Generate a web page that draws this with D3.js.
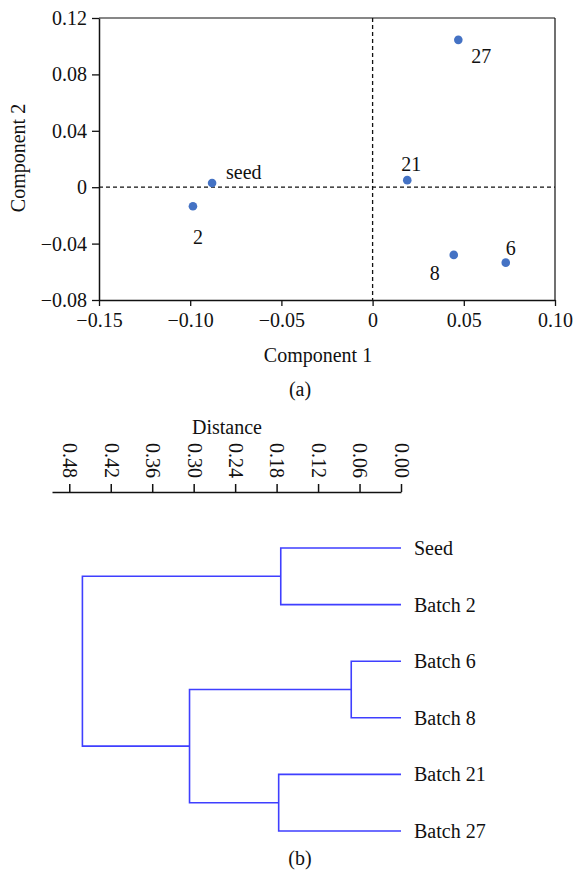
<!DOCTYPE html>
<html>
<head>
<meta charset="utf-8">
<script src="https://cdn.jsdelivr.net/npm/d3@7"></script>
<style>
  body { margin: 0; background: #fff; }
  text { font-family: "Liberation Serif", "Times New Roman", serif; fill: #111; }
  .axis text { font-family: "Liberation Serif", "Times New Roman", serif; fill: #111; }
  .axis path, .axis line { stroke: #111; }
</style>
</head>
<body>
<svg width="577" height="878"></svg>
<script>
// ---- (a) PCA scores ----
var pointNames = ["seed", "2", "21", "27", "8", "6"];
var comp1 = [-0.088, -0.0985, 0.019, 0.047, 0.0445, 0.073];
var comp2 = [0.003, -0.0135, 0.005, 0.1045, -0.048, -0.0535];
// label offset (px) for each point, relative to the dot
var labelDx = [14, 0, -6, 13, -24, 0];
var labelDy = [-11, 31, -16, 16, 18, -15];
var xTicks = [-0.15, -0.10, -0.05, 0, 0.05, 0.10];
var yTicks = [-0.08, -0.04, 0, 0.04, 0.08, 0.12];

// ---- (b) dendrogram ----
var leaves = ["Seed", "Batch 2", "Batch 6", "Batch 8", "Batch 21", "Batch 27"];
// linkage rows: [child a, child b, distance]; ids >= leaves.length are earlier rows
var linkage = [
    [0, 1, 0.174],
    [2, 3, 0.072],
    [4, 5, 0.177],
    [7, 8, 0.306],
    [6, 9, 0.461]
];
var distTicks = [0.48, 0.42, 0.36, 0.30, 0.24, 0.18, 0.12, 0.06, 0.00];

var svg = d3.select("svg");
var blue = "#4472c4";
var lineBlue = "#3f3fff";
var fs = "20px";

var minus = function(v) {
    if (v === 0) return "0";
    var s = d3.format(".2f")(Math.abs(v));
    return v < 0 ? "\u2212" + s : s;
};

var x = d3.scaleLinear().domain([-0.15, 0.10]).range([99, 555]);
var y = d3.scaleLinear().domain([-0.08, 0.12]).range([300, 18]);

var gx = svg.append("g")
    .attr("class", "axis")
    .attr("transform", "translate(0," + y(-0.08) + ")")
    .call(d3.axisBottom(x).tickValues(xTicks).tickFormat(minus).tickSize(6).tickSizeOuter(0).tickPadding(7));
gx.selectAll("text").style("font-size", fs);

var gy = svg.append("g")
    .attr("class", "axis")
    .attr("transform", "translate(" + x(-0.15) + ",0)")
    .call(d3.axisLeft(y).tickValues(yTicks).tickFormat(minus).tickSize(7).tickSizeOuter(0).tickPadding(5));
gy.selectAll("text").style("font-size", fs);
gx.select(".domain").attr("stroke-width", 1.5);
gy.select(".domain").attr("stroke-width", 1.5);
gx.selectAll(".tick line").attr("stroke-width", 1.3);
gy.selectAll(".tick line").attr("stroke-width", 1.3);

// frame top and right
svg.append("line").attr("x1", x(-0.15)).attr("x2", x(0.10)).attr("y1", y(0.12)).attr("y2", y(0.12))
    .attr("stroke", "#111").attr("stroke-width", 1.2);
svg.append("line").attr("x1", x(0.10)).attr("x2", x(0.10)).attr("y1", y(0.12)).attr("y2", y(-0.08))
    .attr("stroke", "#111").attr("stroke-width", 1.2);

// zero lines
svg.append("line").attr("x1", x(-0.15)).attr("x2", x(0.10)).attr("y1", y(0)).attr("y2", y(0))
    .attr("stroke", "#111").attr("stroke-width", 1.3).attr("stroke-dasharray", "4,3");
svg.append("line").attr("x1", x(0)).attr("x2", x(0)).attr("y1", y(0.12)).attr("y2", y(-0.08))
    .attr("stroke", "#111").attr("stroke-width", 1.3).attr("stroke-dasharray", "4,3");

var pts = pointNames.map(function(n, i) {
    return {name: n, c1: comp1[i], c2: comp2[i], dx: labelDx[i], dy: labelDy[i]};
});

svg.selectAll(".pt")
    .data(pts)
    .enter().append("circle")
        .attr("class", "pt")
        .attr("cx", function(d) { return x(d.c1); })
        .attr("cy", function(d) { return y(d.c2); })
        .attr("r", 4.3)
        .attr("fill", blue);

svg.selectAll(".pt-label")
    .data(pts)
    .enter().append("text")
        .attr("class", "pt-label")
        .attr("x", function(d) { return x(d.c1) + d.dx; })
        .attr("y", function(d) { return y(d.c2) + d.dy; })
        .attr("dy", "0.35em")
        .style("font-size", fs)
        .text(function(d) { return d.name; });

svg.append("text").attr("x", 318).attr("y", 355).attr("dy", "0.35em")
    .attr("text-anchor", "middle").style("font-size", fs).text("Component 1");
svg.append("text").attr("transform", "translate(18,158) rotate(-90)").attr("dy", "0.35em")
    .attr("text-anchor", "middle").style("font-size", fs).text("Component 2");
svg.append("text").attr("x", 300).attr("y", 389).attr("dy", "0.35em")
    .attr("text-anchor", "middle").style("font-size", fs).text("(a)");

// ---- dendrogram ----
var dx = d3.scaleLinear().domain([0.505, 0]).range([52, 401]);
var leafY = d3.scalePoint().domain(leaves).range([548, 831]);

var gd = svg.append("g")
    .attr("class", "axis")
    .attr("transform", "translate(0,492)")
    .call(d3.axisTop(dx).tickValues(distTicks).tickFormat(d3.format(".2f")).tickSize(8).tickSizeOuter(0).tickPadding(6));
gd.select(".domain").attr("stroke-width", 1.5);
gd.selectAll(".tick line").attr("stroke-width", 1.5);
gd.selectAll(".tick text")
    .attr("transform", "rotate(90)")
    .attr("text-anchor", "end")
    .attr("x", -14)
    .attr("y", 0)
    .attr("dy", "0.33em")
    .style("font-size", fs);

svg.append("text").attr("x", 227).attr("y", 427).attr("dy", "0.35em")
    .attr("text-anchor", "middle").style("font-size", fs).text("Distance");

// build nodes from linkage
var nodes = leaves.map(function(n) { return {name: n, dist: 0, y: leafY(n)}; });
linkage.forEach(function(r) {
    var a = nodes[r[0]], b = nodes[r[1]];
    nodes.push({children: [a, b], dist: r[2], y: (a.y + b.y) / 2});
});

var links = svg.append("g")
    .attr("fill", "none")
    .attr("stroke", lineBlue)
    .attr("stroke-width", 1.6);

nodes.forEach(function(nd) {
    if (!nd.children) return;
    var a = nd.children[0], b = nd.children[1];
    links.append("path")
        .attr("d", "M" + dx(a.dist) + "," + a.y +
                   "H" + dx(nd.dist) +
                   "V" + b.y +
                   "H" + dx(b.dist));
});

svg.selectAll(".leaf")
    .data(leaves)
    .enter().append("text")
        .attr("class", "leaf")
        .attr("x", dx(0) + 13)
        .attr("y", function(d) { return leafY(d); })
        .attr("dy", "0.35em")
        .style("font-size", fs)
        .text(function(d) { return d; });

svg.append("text").attr("x", 300).attr("y", 858).attr("dy", "0.35em")
    .attr("text-anchor", "middle").style("font-size", fs).text("(b)");
</script>
</body>
</html>
